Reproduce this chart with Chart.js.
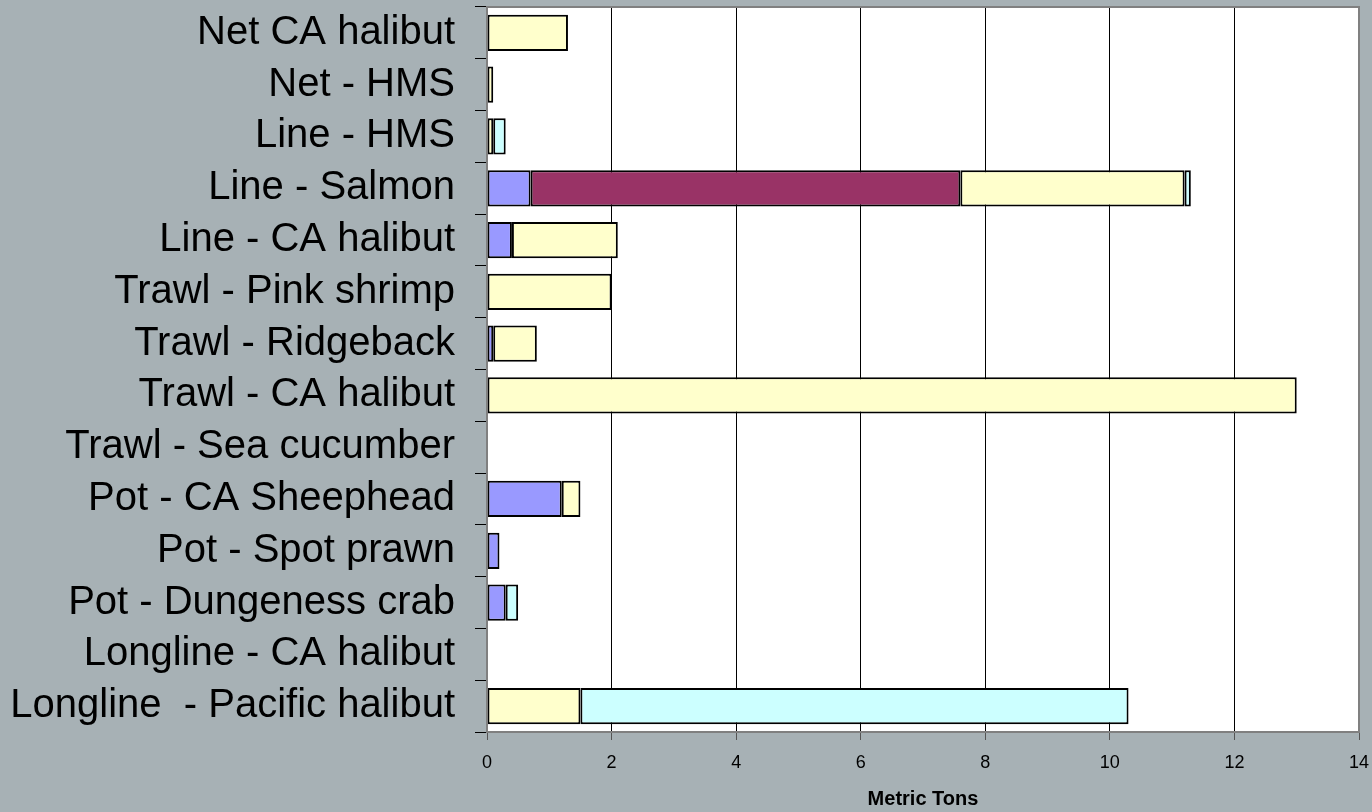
<!DOCTYPE html>
<html>
<head>
<meta charset="utf-8">
<script src="https://cdn.jsdelivr.net/npm/chart.js@4"></script>
<style>
  html, body { margin: 0; padding: 0; background: #a7b1b5; }
  #wrap { width: 1372px; height: 812px; position: relative; }
</style>
</head>
<body>
<div id="wrap"><canvas id="myChart"></canvas></div>
<script>
const categories = [
    "Net CA halibut",
    "Net - HMS",
    "Line - HMS",
    "Line - Salmon",
    "Line - CA halibut",
    "Trawl - Pink shrimp",
    "Trawl - Ridgeback",
    "Trawl - CA halibut",
    "Trawl - Sea cucumber",
    "Pot - CA Sheephead",
    "Pot - Spot prawn",
    "Pot - Dungeness crab",
    "Longline - CA halibut",
    "Longline  - Pacific halibut"
];

// stacked segments, left to right
const blueValues   = [0, 0, 0, 0.7, 0.4, 0, 0.1, 0, 0, 1.2, 0.2, 0.3, 0, 0];
const maroonValues = [0, 0, 0, 6.9, 0, 0, 0, 0, 0, 0, 0, 0, 0, 0];
const yellowValues = [1.3, 0.1, 0.1, 3.6, 1.7, 2.0, 0.7, 13.0, 0, 0.3, 0, 0, 0, 1.5];
const cyanValues   = [0, 0, 0.2, 0.1, 0, 0, 0, 0, 0, 0, 0, 0.2, 0, 8.8];

const xTicks = [0, 2, 4, 6, 8, 10, 12, 14];

const font = "'Liberation Sans', Arial, sans-serif";

// white plot area + gray frame
const plotFrame = {
    id: 'plotFrame',
    beforeDraw(chart) {
        const { ctx, chartArea: a } = chart;
        ctx.save();
        ctx.fillStyle = '#ffffff';
        ctx.fillRect(a.left, a.top, a.right - a.left, a.bottom - a.top);
        ctx.restore();
    },
    afterDraw(chart) {
        const { ctx, chartArea: a } = chart;
        ctx.save();
        ctx.strokeStyle = '#808080';
        ctx.lineWidth = 2;
        ctx.strokeRect(a.left, a.top, a.right - a.left, a.bottom - a.top);
        ctx.restore();
    }
};

function makeSet(label, data, color) {
    return {
        label: label,
        data: data,
        backgroundColor: color,
        borderColor: '#000000',
        borderWidth: 2,
        borderSkipped: false,
        categoryPercentage: 1,
        barPercentage: 0.7
    };
}

new Chart("myChart", {
    type: "bar",
    data: {
        labels: categories,
        datasets: [
            makeSet("Series 1", blueValues, "#9999ff"),
            makeSet("Series 2", maroonValues, "#993366"),
            makeSet("Series 3", yellowValues, "#ffffcc"),
            makeSet("Series 4", cyanValues, "#ccffff")
        ]
    },
    plugins: [plotFrame],
    options: {
        indexAxis: 'y',
        responsive: true,
        maintainAspectRatio: false,
        animation: false,
        layout: { padding: { top: 7, right: 13, left: 0, bottom: 0 } },
        plugins: {
            legend: { display: false },
            tooltip: { enabled: false }
        },
        scales: {
            x: {
                stacked: true,
                min: 0,
                max: 14,
                afterBuildTicks(axis) {
                    axis.ticks = xTicks.map(v => ({ value: v }));
                },
                afterFit(axis) {
                    axis.height = 80;
                    axis.paddingLeft = 0;
                    axis.paddingRight = 0;
                },
                grid: {
                    color: '#000000',
                    lineWidth: 1,
                    tickLength: 8,
                    tickColor: '#555555'
                },
                border: { color: '#808080', width: 2 },
                ticks: {
                    color: '#000000',
                    padding: 12,
                    maxRotation: 0,
                    font: { family: font, size: 18 }
                },
                title: {
                    display: true,
                    text: 'Metric Tons',
                    color: '#000000',
                    padding: { top: 4, bottom: 1 },
                    font: { family: font, size: 20, weight: 'bold' }
                }
            },
            y: {
                stacked: true,
                afterFit(axis) {
                    axis.width = 487;
                    axis.paddingTop = 0;
                    axis.paddingBottom = 0;
                },
                grid: {
                    offset: true,
                    drawOnChartArea: false,
                    tickLength: 12,
                    tickColor: '#000000'
                },
                border: { color: '#808080', width: 2 },
                ticks: {
                    color: '#000000',
                    padding: 20,
                    autoSkip: false,
                    font: { family: font, size: 40 }
                }
            }
        }
    }
});
</script>
</body>
</html>
